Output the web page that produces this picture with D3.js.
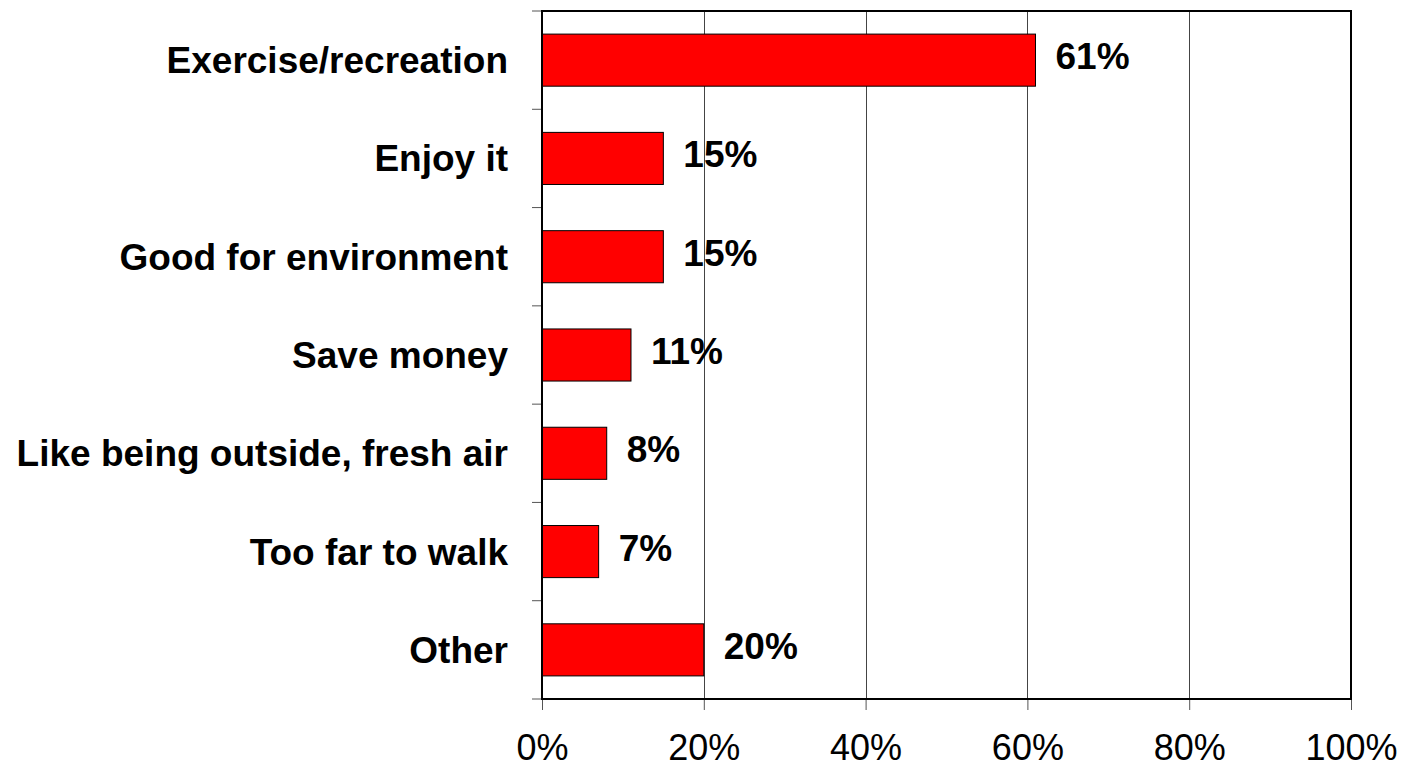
<!DOCTYPE html>
<html>
<head>
<meta charset="utf-8">
<script src="https://cdn.jsdelivr.net/npm/d3@7"></script>
<style>
  html, body { margin: 0; padding: 0; background: #fff; }
  svg { display: block; }
  text { font-family: Arial, "Liberation Sans", Helvetica, sans-serif; }
</style>
</head>
<body>
<svg id="chart" width="1414" height="770"></svg>
<script>
const categories = [
  "Exercise/recreation",
  "Enjoy it",
  "Good for environment",
  "Save money",
  "Like being outside, fresh air",
  "Too far to walk",
  "Other"
];
const values = [61, 15, 15, 11, 8, 7, 20];
const tickValues = [0, 20, 40, 60, 80, 100];
const tickLabels = ["0%", "20%", "40%", "60%", "80%", "100%"];

(function () {
const svg = d3.select("#chart");
const pLeft = 542, pRight = 1351, pTop = 11, pBottom = 699;

const x = d3.scaleLinear().domain([0, 100]).range([pLeft, pRight]);
const y = d3.scaleBand().domain(categories).range([pTop, pBottom])
  .paddingInner(0.47).paddingOuter(0.235);

// gridlines
svg.append("g").selectAll("line")
  .data(tickValues.slice(1, -1))
  .join("line")
  .attr("x1", d => Math.round(x(d)) + 0.5)
  .attr("x2", d => Math.round(x(d)) + 0.5)
  .attr("y1", pTop).attr("y2", pBottom)
  .attr("stroke", "#444").attr("stroke-width", 1);

// bottom axis ticks + labels
const xAxis = d3.axisBottom(x).tickValues(tickValues)
  .tickFormat((d, i) => tickLabels[i]).tickSize(11).tickPadding(24);
const gx = svg.append("g").attr("transform", `translate(0,${pBottom})`).call(xAxis);
gx.select(".domain").remove();
gx.selectAll(".tick line").attr("stroke", "#555").attr("stroke-width", 1);
gx.selectAll(".tick text")
  .attr("font-size", 36).attr("font-family", "Arial, 'Liberation Sans', sans-serif")
  .attr("fill", "#000");

// left category boundary ticks
const step = y.step();
const boundaryY = i => pTop + i * step;
svg.append("g").selectAll("line")
  .data(d3.range(categories.length + 1))
  .join("line")
  .attr("x1", pLeft - 10).attr("x2", pLeft)
  .attr("y1", i => boundaryY(i)).attr("y2", i => boundaryY(i))
  .attr("stroke", "#555").attr("stroke-width", 1);

// bars
svg.append("g").selectAll("rect")
  .data(values)
  .join("rect")
  .attr("x", x(0))
  .attr("y", (d, i) => y(categories[i]))
  .attr("width", d => x(d) - x(0))
  .attr("height", y.bandwidth())
  .attr("fill", "#ff0000")
  .attr("stroke", "#000").attr("stroke-width", 1);

// frame
svg.append("rect")
  .attr("x", pLeft).attr("y", pTop)
  .attr("width", pRight - pLeft).attr("height", pBottom - pTop)
  .attr("fill", "none").attr("stroke", "#000").attr("stroke-width", 2);

// category labels
svg.append("g").selectAll("text")
  .data(categories)
  .join("text")
  .attr("x", pLeft - 34)
  .attr("y", d => y(d) + y.bandwidth() / 2)
  .attr("dy", "0.35em")
  .attr("text-anchor", "end")
  .attr("font-size", 37).attr("font-weight", "bold")
  .attr("fill", "#000")
  .text(d => d);

// value labels
svg.append("g").selectAll("text")
  .data(values)
  .join("text")
  .attr("x", d => x(d) + 20)
  .attr("y", (d, i) => y(categories[i]) + y.bandwidth() / 2 - 4)
  .attr("dy", "0.35em")
  .attr("font-size", 37).attr("font-weight", "bold")
  .attr("fill", "#000")
  .text(d => d + "%");
})();
</script>
</body>
</html>
